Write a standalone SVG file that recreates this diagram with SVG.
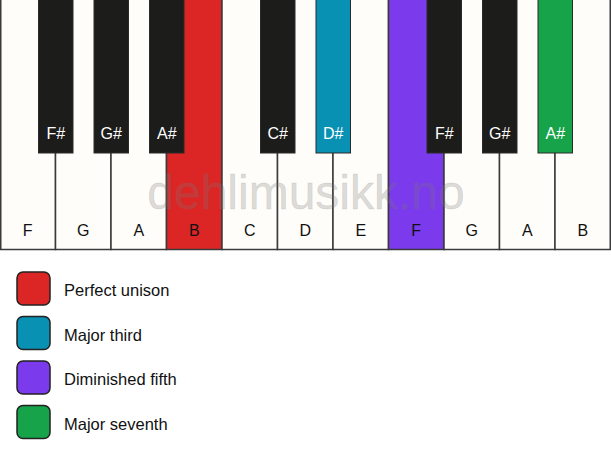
<svg xmlns="http://www.w3.org/2000/svg" width="611" height="461" viewBox="0 0 611 461">
<style>
.w{fill:#fffdf9;stroke:#3a3a3a;stroke-width:1.5}
.b{fill:#1c1c1a;stroke:#2a2a2a;stroke-width:1}
.lw{font-family:"Liberation Sans",Arial,sans-serif;font-size:16px;fill:#111;text-anchor:middle}
.lb{font-family:"Liberation Sans",Arial,sans-serif;font-size:16px;fill:#fff;text-anchor:middle}
.sw{stroke:#222;stroke-width:1.5}
.lg{font-family:"Liberation Sans",Arial,sans-serif;font-size:16.5px;fill:#111}
</style>
<rect width="611" height="461" fill="#fff"/>
<g id="white-keys">
<g id="key-F1"><rect class="w" x="0.75" y="-2" width="54.75" height="251.5"/><text class="lw" x="27.75" y="236">F</text></g>
<g id="key-G1"><rect class="w" x="55.5" y="-2" width="55.5" height="251.5"/><text class="lw" x="83.25" y="236">G</text></g>
<g id="key-A1"><rect class="w" x="111" y="-2" width="55.5" height="251.5"/><text class="lw" x="138.75" y="236">A</text></g>
<g id="key-B1"><rect class="w" x="166.5" y="-2" width="55.5" height="251.5" style="fill:#dc2626"/><text class="lw" x="194.25" y="236">B</text></g>
<g id="key-C"><rect class="w" x="222" y="-2" width="55.5" height="251.5"/><text class="lw" x="249.75" y="236">C</text></g>
<g id="key-D"><rect class="w" x="277.5" y="-2" width="55.5" height="251.5"/><text class="lw" x="305.25" y="236">D</text></g>
<g id="key-E"><rect class="w" x="333" y="-2" width="55.5" height="251.5"/><text class="lw" x="360.75" y="236">E</text></g>
<g id="key-F2"><rect class="w" x="388.5" y="-2" width="55.5" height="251.5" style="fill:#7c3aed"/><text class="lw" x="416.25" y="236">F</text></g>
<g id="key-G2"><rect class="w" x="444" y="-2" width="55.5" height="251.5"/><text class="lw" x="471.75" y="236">G</text></g>
<g id="key-A2"><rect class="w" x="499.5" y="-2" width="55.5" height="251.5"/><text class="lw" x="527.25" y="236">A</text></g>
<g id="key-B2"><rect class="w" x="555" y="-2" width="55.25" height="251.5"/><text class="lw" x="582.75" y="236">B</text></g>
</g>
<text x="306" y="209" font-family="'Liberation Sans',Arial,sans-serif" font-size="48" fill="#777" fill-opacity="0.27" stroke="#777" stroke-opacity="0.15" stroke-width="0.8" text-anchor="middle">dehlimusikk.no</text>
<g id="black-keys">
<g id="key-Fs1"><rect class="b" x="38.5" y="-2" width="34.5" height="155"/><text class="lb" x="55.75" y="139">F#</text></g>
<g id="key-Gs1"><rect class="b" x="94" y="-2" width="34.5" height="155"/><text class="lb" x="111.25" y="139">G#</text></g>
<g id="key-As1"><rect class="b" x="149.5" y="-2" width="34.5" height="155"/><text class="lb" x="166.75" y="139">A#</text></g>
<g id="key-Cs"><rect class="b" x="260.5" y="-2" width="34.5" height="155"/><text class="lb" x="277.75" y="139">C#</text></g>
<g id="key-Ds"><rect class="b" x="316" y="-2" width="34.5" height="155" style="fill:#0891b2"/><text class="lb" x="333.25" y="139">D#</text></g>
<g id="key-Fs2"><rect class="b" x="427" y="-2" width="34.5" height="155"/><text class="lb" x="444.25" y="139">F#</text></g>
<g id="key-Gs2"><rect class="b" x="482.5" y="-2" width="34.5" height="155"/><text class="lb" x="499.75" y="139">G#</text></g>
<g id="key-As2"><rect class="b" x="538" y="-2" width="34.5" height="155" style="fill:#16a34a"/><text class="lb" x="555.25" y="139">A#</text></g>
</g>
<g id="legend">
<g id="legend-unison"><rect class="sw" x="17" y="272" width="33" height="33" rx="6" fill="#dc2626"/><text class="lg" x="64" y="296">Perfect unison</text></g>
<g id="legend-third"><rect class="sw" x="17" y="316.5" width="33" height="33" rx="6" fill="#0891b2"/><text class="lg" x="64" y="340.5">Major third</text></g>
<g id="legend-fifth"><rect class="sw" x="17" y="361" width="33" height="33" rx="6" fill="#7c3aed"/><text class="lg" x="64" y="385">Diminished fifth</text></g>
<g id="legend-seventh"><rect class="sw" x="17" y="405.5" width="33" height="33" rx="6" fill="#16a34a"/><text class="lg" x="64" y="429.5">Major seventh</text></g>
</g>
</svg>
